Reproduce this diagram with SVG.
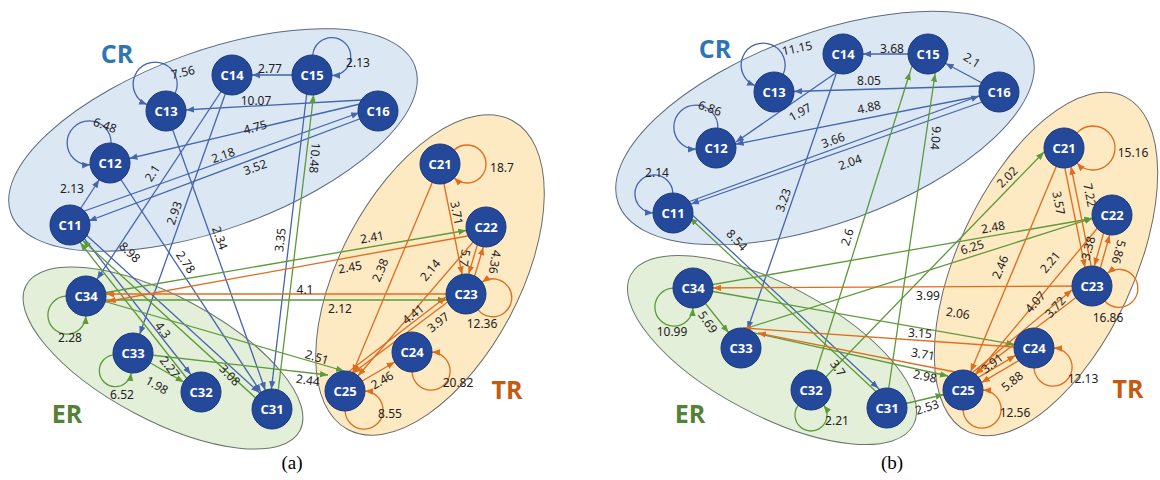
<svg xmlns="http://www.w3.org/2000/svg" width="1160" height="480" viewBox="0 0 1160 480">
<style>
.bg{fill:#fff}
.rcr{fill:#dce7f4;stroke:#5b6b80;stroke-width:1}
.rtr{fill:#fde9c2;stroke:#6b6b6b;stroke-width:1}
.rer{fill:#e3efd8;stroke:#687868;stroke-width:1}
.eb,.ebt,.lb{stroke:#4565ad;fill:none;stroke-width:1.3}
.eg,.egt,.lg{stroke:#5c9a3a;fill:none;stroke-width:1.3}
.eo,.eot,.lo{stroke:#e06c1e;fill:none;stroke-width:1.3}
.eb{marker-end:url(#mb)} .ebt,.lb{marker-end:url(#tb)}
.eg{marker-end:url(#mg)} .egt,.lg{marker-end:url(#tg)}
.eo{marker-end:url(#mo)} .eot,.lo{marker-end:url(#to)}
.lab{font-family:"Noto Sans","Open Sans",sans-serif;font-size:12px;fill:#222;text-anchor:middle;dominant-baseline:central}
.nd circle{fill:#24499a;stroke:#1a3a7a;stroke-width:1}
.nd text{font-family:"Open Sans","Noto Sans",sans-serif;font-weight:bold;font-size:13px;fill:#fff;text-anchor:middle;dominant-baseline:central}
.rl{font-family:"Open Sans","Noto Sans",sans-serif;font-weight:bold;font-size:25px;text-anchor:middle;dominant-baseline:central}
.cap{font-family:"Liberation Serif","Times New Roman",serif;font-size:19px;fill:#000;text-anchor:middle}
</style>
<defs>
<marker id="mb" markerUnits="userSpaceOnUse" markerWidth="30" markerHeight="8" refX="28" refY="4" orient="auto"><path d="M0,0.8L8,4L0,7.2z" fill="#4565ad"/></marker>
<marker id="mg" markerUnits="userSpaceOnUse" markerWidth="30" markerHeight="8" refX="28" refY="4" orient="auto"><path d="M0,0.8L8,4L0,7.2z" fill="#5c9a3a"/></marker>
<marker id="mo" markerUnits="userSpaceOnUse" markerWidth="30" markerHeight="8" refX="28" refY="4" orient="auto"><path d="M0,0.8L8,4L0,7.2z" fill="#e06c1e"/></marker>
<marker id="tb" markerUnits="userSpaceOnUse" markerWidth="9" markerHeight="8" refX="8" refY="4" orient="auto"><path d="M0,0.8L8,4L0,7.2z" fill="#4565ad"/></marker>
<marker id="tg" markerUnits="userSpaceOnUse" markerWidth="9" markerHeight="8" refX="8" refY="4" orient="auto"><path d="M0,0.8L8,4L0,7.2z" fill="#5c9a3a"/></marker>
<marker id="to" markerUnits="userSpaceOnUse" markerWidth="9" markerHeight="8" refX="8" refY="4" orient="auto"><path d="M0,0.8L8,4L0,7.2z" fill="#e06c1e"/></marker>
</defs>
<rect class="bg" x="0" y="0" width="1160" height="480"/>

<g id="regions">
<g id="a-CR"><ellipse class="rcr" cx="213" cy="140" rx="215" ry="89" transform="rotate(-20 213 140)"/><text class="rl" x="117" y="53" fill="#2e75b6">CR</text></g>
<g id="a-TR"><ellipse class="rtr" cx="430" cy="275" rx="175" ry="90" transform="rotate(-62 430 275)"/><text class="rl" x="507" y="389" fill="#c55a11">TR</text></g>
<g id="a-ER"><ellipse class="rer" cx="163" cy="358" rx="155" ry="62" transform="rotate(28 163 358)"/><text class="rl" x="67" y="413" fill="#548235">ER</text></g>
<g id="b-CR"><ellipse class="rcr" cx="825" cy="128" rx="220" ry="95" transform="rotate(-20 825 128)"/><text class="rl" x="715" y="48" fill="#2e75b6">CR</text></g>
<g id="b-TR"><ellipse class="rtr" cx="1046" cy="264" rx="185" ry="88" transform="rotate(-65 1046 264)"/><text class="rl" x="1128" y="388" fill="#c55a11">TR</text></g>
<g id="b-ER"><ellipse class="rer" cx="772" cy="350" rx="160" ry="65" transform="rotate(28 772 350)"/><text class="rl" x="690" y="413" fill="#548235">ER</text></g>
</g>

<g id="connectors">
<path class="eb" d="M312,75L232,75"/>
<path class="eb" d="M362,100L166,111"/>
<path class="eb" d="M360,104L110,163"/>
<path class="eb" d="M76,214L378,106"/>
<path class="eb" d="M362,118L70,228"/>
<path class="eb" d="M70,225L110,163"/>
<path class="eb" d="M232,75L86,296"/>
<path class="eb" d="M232,75L133,353"/>
<path class="eb" d="M166,111L272,409"/>
<path class="eb" d="M110,163L272,409"/>
<path class="eb" d="M309,75L269,409"/>
<path class="eb" d="M72,222L274,406"/>
<path class="eb" d="M72,223L203,390"/>
<path class="eg" d="M276,409L316,75"/>
<path class="eg" d="M270,411L68,227"/>
<path class="eg" d="M199,394L68,227"/>
<path class="eg" d="M133,353L201,392"/>
<path class="eg" d="M86,296L486,227"/>
<path class="eg" d="M86,300L466,300"/>
<path class="egt" d="M86,296L344,371"/>
<path class="egt" d="M133,353L328,375"/>
<path class="eo" d="M484,233L88,305"/>
<path class="eo" d="M466,294L86,294"/>
<path class="eo" d="M440,164L345,391"/>
<path class="eo" d="M440,164L466,294"/>
<path class="eo" d="M483,226L463,293"/>
<path class="eo" d="M469,295L489,228"/>
<path class="eo" d="M486,227L345,391"/>
<path class="eo" d="M345,391L412,352"/>
<path class="eot" d="M347,373L446,297"/>
<path class="eot" d="M449,301L353,373"/>
<path class="lb" transform="translate(312,75) rotate(-43)" d="M14.22,-14.06A19,19 0 1 1 14.22,14.06"/>
<path class="lb" transform="translate(166,111) rotate(-112)" d="M13.05,15.16A22,22 0 1 0 13.05,-15.16"/>
<path class="lb" transform="translate(110,163) rotate(-136)" d="M13.05,15.16A22,22 0 1 0 13.05,-15.16"/>
<path class="lo" transform="translate(440,164) rotate(0)" d="M14.22,-14.06A19,19 0 1 1 14.22,14.06"/>
<path class="lo" transform="translate(466,294) rotate(8)" d="M14.22,14.06A19,19 0 1 0 14.22,-14.06"/>
<path class="lo" transform="translate(412,352) rotate(45)" d="M14.22,14.06A19,19 0 1 0 14.22,-14.06"/>
<path class="lo" transform="translate(345,391) rotate(45)" d="M14.22,14.06A19,19 0 1 0 14.22,-14.06"/>
<path class="lg" transform="translate(86,296) rotate(135)" d="M14.22,14.06A19,19 0 1 0 14.22,-14.06"/>
<path class="lg" transform="translate(133,353) rotate(135)" d="M15.38,12.8A16,16 0 1 0 15.38,-12.8"/>

<path class="eb" d="M928,54L843,54"/>
<path class="eb" d="M999,92L928,54"/>
<path class="eb" d="M982,86L774,92"/>
<path class="eb" d="M980,96L716,148"/>
<path class="ebt" d="M680,205L979,96"/>
<path class="ebt" d="M985,101L691,204"/>
<path class="ebt" d="M840,70L736,142"/>
<path class="eb" d="M843,54L741,348"/>
<path class="eb" d="M673,197L893,402"/>
<path class="eg" d="M885,400L675,204"/>
<path class="eg" d="M812,385L916,53"/>
<path class="eg" d="M887,400L938,54"/>
<path class="egt" d="M818,385L1044,152"/>
<path class="eg" d="M693,288L1112,215"/>
<path class="eg" d="M741,330L1112,212"/>
<path class="eg" d="M693,288L1034,348"/>
<path class="egt" d="M741,330L948,376"/>
<path class="eg" d="M887,408L963,390"/>
<path class="eg" d="M693,288L741,348"/>
<path class="eo" d="M1092,286L693,288"/>
<path class="eot" d="M1014,347L743,328"/>
<path class="eot" d="M955,372L758,333"/>
<path class="eo" d="M1061,149L1089,287"/>
<path class="eo" d="M1095,285L1067,147"/>
<path class="eo" d="M1064,148L963,390"/>
<path class="eo" d="M1109,214L1089,285"/>
<path class="eo" d="M1095,287L1115,216"/>
<path class="eo" d="M1100,225L963,390"/>
<path class="eot" d="M966,378L1072,290"/>
<path class="eot" d="M1078,296L975,374"/>
<path class="eo" d="M961.5,387.4L1032.5,345.4"/>
<path class="eo" d="M1035.5,350.6L964.5,392.6"/>
<path class="lb" transform="translate(774,92) rotate(-112)" d="M13.05,15.16A22,22 0 1 0 13.05,-15.16"/>
<path class="lb" transform="translate(716,148) rotate(-134)" d="M13.05,15.16A22,22 0 1 0 13.05,-15.16"/>
<path class="lb" transform="translate(673,213) rotate(-135)" d="M14.22,14.06A19,19 0 1 0 14.22,-14.06"/>
<path class="lo" transform="translate(1064,148) rotate(0)" d="M13.05,-15.16A22,22 0 1 1 13.05,15.16"/>
<path class="lo" transform="translate(1092,286) rotate(5)" d="M14.22,14.06A19,19 0 1 0 14.22,-14.06"/>
<path class="lo" transform="translate(1034,348) rotate(45)" d="M14.22,14.06A19,19 0 1 0 14.22,-14.06"/>
<path class="lo" transform="translate(963,390) rotate(45)" d="M14.22,14.06A19,19 0 1 0 14.22,-14.06"/>
<path class="lg" transform="translate(693,288) rotate(135)" d="M14.22,14.06A19,19 0 1 0 14.22,-14.06"/>
<path class="lg" transform="translate(811,390) rotate(90)" d="M15.38,12.8A16,16 0 1 0 15.38,-12.8"/>
</g>

<g id="edge-labels">
<text class="lab" x="270" y="68">2.77</text>
<text class="lab" x="256" y="100">10.07</text>
<text class="lab" x="255" y="127" transform="rotate(-15 255 127)">4.75</text>
<text class="lab" x="223" y="155" transform="rotate(-19 223 155)">2.18</text>
<text class="lab" x="255" y="167" transform="rotate(-19 255 167)">3.52</text>
<text class="lab" x="72" y="188">2.13</text>
<text class="lab" x="105" y="125" transform="rotate(20 105 125)">6.48</text>
<text class="lab" x="183" y="72" transform="rotate(-12 183 72)">7.56</text>
<text class="lab" x="358" y="62">2.13</text>
<text class="lab" x="152" y="173" transform="rotate(-57 152 173)">2.1</text>
<text class="lab" x="174" y="213" transform="rotate(-70 174 213)">2.93</text>
<text class="lab" x="220" y="238" transform="rotate(70 220 238)">2.34</text>
<text class="lab" x="186" y="262" transform="rotate(56 186 262)">2.78</text>
<text class="lab" x="280" y="240" transform="rotate(-83 280 240)">3.35</text>
<text class="lab" x="315" y="158" transform="rotate(95 315 158)">10.48</text>
<text class="lab" x="130" y="252" transform="rotate(43 130 252)">8.98</text>
<text class="lab" x="170" y="367" transform="rotate(52 170 367)">2.27</text>
<text class="lab" x="163" y="330" transform="rotate(52 163 330)">4.3</text>
<text class="lab" x="230" y="375" transform="rotate(47 230 375)">3.08</text>
<text class="lab" x="70" y="337">2.28</text>
<text class="lab" x="122" y="394">6.52</text>
<text class="lab" x="157" y="385" transform="rotate(30 157 385)">1.98</text>
<text class="lab" x="317" y="357" transform="rotate(17 317 357)">2.51</text>
<text class="lab" x="308" y="380" transform="rotate(8 308 380)">2.44</text>
<text class="lab" x="372" y="237" transform="rotate(-10 372 237)">2.41</text>
<text class="lab" x="350" y="267" transform="rotate(-10 350 267)">2.45</text>
<text class="lab" x="305" y="289">4.1</text>
<text class="lab" x="340" y="308">2.12</text>
<text class="lab" x="380" y="270" transform="rotate(-67 380 270)">2.38</text>
<text class="lab" x="457" y="213" transform="rotate(79 457 213)">3.71</text>
<text class="lab" x="465" y="258" transform="rotate(100 465 258)">5.7</text>
<text class="lab" x="495" y="262" transform="rotate(100 495 262)">4.36</text>
<text class="lab" x="430" y="270" transform="rotate(-50 430 270)">2.14</text>
<text class="lab" x="413" y="314" transform="rotate(-38 413 314)">4.41</text>
<text class="lab" x="438" y="322" transform="rotate(-38 438 322)">3.97</text>
<text class="lab" x="382" y="380" transform="rotate(-30 382 380)">2.46</text>
<text class="lab" x="482" y="323">12.36</text>
<text class="lab" x="458" y="382">20.82</text>
<text class="lab" x="390" y="413">8.55</text>
<text class="lab" x="502" y="167">18.7</text>

<text class="lab" x="892" y="48">3.68</text>
<text class="lab" x="972" y="60" transform="rotate(32 972 60)">2.1</text>
<text class="lab" x="797" y="48" transform="rotate(-12 797 48)">11.15</text>
<text class="lab" x="869" y="80">8.05</text>
<text class="lab" x="800" y="112" transform="rotate(-30 800 112)">1.97</text>
<text class="lab" x="869" y="107" transform="rotate(-12 869 107)">4.88</text>
<text class="lab" x="833" y="140" transform="rotate(-20 833 140)">3.66</text>
<text class="lab" x="850" y="162" transform="rotate(-20 850 162)">2.04</text>
<text class="lab" x="710" y="108" transform="rotate(20 710 108)">6.86</text>
<text class="lab" x="657" y="172">2.14</text>
<text class="lab" x="783" y="200" transform="rotate(-71 783 200)">3.23</text>
<text class="lab" x="737" y="240" transform="rotate(47 737 240)">8.54</text>
<text class="lab" x="838" y="368" transform="rotate(55 838 368)">3.7</text>
<text class="lab" x="847" y="237" transform="rotate(-72 847 237)">2.6</text>
<text class="lab" x="936" y="138" transform="rotate(95 936 138)">9.04</text>
<text class="lab" x="1007" y="177" transform="rotate(-45 1007 177)">2.02</text>
<text class="lab" x="993" y="227" transform="rotate(-10 993 227)">2.48</text>
<text class="lab" x="972" y="247" transform="rotate(-17 972 247)">6.25</text>
<text class="lab" x="958" y="313" transform="rotate(8 958 313)">2.06</text>
<text class="lab" x="925" y="376" transform="rotate(12 925 376)">2.98</text>
<text class="lab" x="927" y="407" transform="rotate(-18 927 407)">2.53</text>
<text class="lab" x="708" y="322" transform="rotate(55 708 322)">5.69</text>
<text class="lab" x="672" y="331">10.99</text>
<text class="lab" x="837" y="420">2.21</text>
<text class="lab" x="928" y="295">3.99</text>
<text class="lab" x="920" y="333" transform="rotate(4 920 333)">3.15</text>
<text class="lab" x="923" y="354" transform="rotate(10 923 354)">3.71</text>
<text class="lab" x="1059" y="203" transform="rotate(79 1059 203)">3.57</text>
<text class="lab" x="1090" y="195" transform="rotate(79 1090 195)">7.22</text>
<text class="lab" x="1000" y="267" transform="rotate(-67 1000 267)">2.46</text>
<text class="lab" x="1088" y="248" transform="rotate(-75 1088 248)">3.38</text>
<text class="lab" x="1119" y="252" transform="rotate(105 1119 252)">5.86</text>
<text class="lab" x="1050" y="262" transform="rotate(-50 1050 262)">2.21</text>
<text class="lab" x="1035" y="302" transform="rotate(-48 1035 302)">4.07</text>
<text class="lab" x="1055" y="307" transform="rotate(-48 1055 307)">3.72</text>
<text class="lab" x="992" y="363" transform="rotate(-38 992 363)">3.91</text>
<text class="lab" x="1012" y="381" transform="rotate(-38 1012 381)">5.88</text>
<text class="lab" x="1083" y="378">12.13</text>
<text class="lab" x="1015" y="412">12.56</text>
<text class="lab" x="1133" y="152">15.16</text>
<text class="lab" x="1108" y="317">16.86</text>
</g>

<g id="nodes-a">
<g id="a-C11" class="nd"><circle cx="70" cy="225" r="20"/><text x="70" y="225">C11</text></g>
<g id="a-C12" class="nd"><circle cx="110" cy="163" r="20"/><text x="110" y="163">C12</text></g>
<g id="a-C13" class="nd"><circle cx="166" cy="111" r="20"/><text x="166" y="111">C13</text></g>
<g id="a-C14" class="nd"><circle cx="232" cy="75" r="20"/><text x="232" y="75">C14</text></g>
<g id="a-C15" class="nd"><circle cx="312" cy="75" r="20"/><text x="312" y="75">C15</text></g>
<g id="a-C16" class="nd"><circle cx="378" cy="111" r="20"/><text x="378" y="111">C16</text></g>
<g id="a-C21" class="nd"><circle cx="440" cy="164" r="20"/><text x="440" y="164">C21</text></g>
<g id="a-C22" class="nd"><circle cx="486" cy="227" r="20"/><text x="486" y="227">C22</text></g>
<g id="a-C23" class="nd"><circle cx="466" cy="294" r="20"/><text x="466" y="294">C23</text></g>
<g id="a-C24" class="nd"><circle cx="412" cy="352" r="20"/><text x="412" y="352">C24</text></g>
<g id="a-C25" class="nd"><circle cx="345" cy="391" r="20"/><text x="345" y="391">C25</text></g>
<g id="a-C31" class="nd"><circle cx="272" cy="409" r="20"/><text x="272" y="409">C31</text></g>
<g id="a-C32" class="nd"><circle cx="201" cy="392" r="20"/><text x="201" y="392">C32</text></g>
<g id="a-C33" class="nd"><circle cx="133" cy="353" r="20"/><text x="133" y="353">C33</text></g>
<g id="a-C34" class="nd"><circle cx="86" cy="296" r="20"/><text x="86" y="296">C34</text></g>
</g>
<g id="nodes-b">
<g id="b-C11" class="nd"><circle cx="673" cy="213" r="20"/><text x="673" y="213">C11</text></g>
<g id="b-C12" class="nd"><circle cx="716" cy="148" r="20"/><text x="716" y="148">C12</text></g>
<g id="b-C13" class="nd"><circle cx="774" cy="92" r="20"/><text x="774" y="92">C13</text></g>
<g id="b-C14" class="nd"><circle cx="843" cy="54" r="20"/><text x="843" y="54">C14</text></g>
<g id="b-C15" class="nd"><circle cx="928" cy="54" r="20"/><text x="928" y="54">C15</text></g>
<g id="b-C16" class="nd"><circle cx="999" cy="92" r="20"/><text x="999" y="92">C16</text></g>
<g id="b-C21" class="nd"><circle cx="1064" cy="148" r="20"/><text x="1064" y="148">C21</text></g>
<g id="b-C22" class="nd"><circle cx="1112" cy="215" r="20"/><text x="1112" y="215">C22</text></g>
<g id="b-C23" class="nd"><circle cx="1092" cy="286" r="20"/><text x="1092" y="286">C23</text></g>
<g id="b-C24" class="nd"><circle cx="1034" cy="348" r="20"/><text x="1034" y="348">C24</text></g>
<g id="b-C25" class="nd"><circle cx="963" cy="390" r="20"/><text x="963" y="390">C25</text></g>
<g id="b-C31" class="nd"><circle cx="887" cy="408" r="20"/><text x="887" y="408">C31</text></g>
<g id="b-C32" class="nd"><circle cx="811" cy="390" r="20"/><text x="811" y="390">C32</text></g>
<g id="b-C33" class="nd"><circle cx="741" cy="348" r="20"/><text x="741" y="348">C33</text></g>
<g id="b-C34" class="nd"><circle cx="693" cy="288" r="20"/><text x="693" y="288">C34</text></g>
</g>

<g id="captions">
<text class="cap" x="292" y="469">(a)</text>
<text class="cap" x="892" y="469">(b)</text>
</g>
</svg>
